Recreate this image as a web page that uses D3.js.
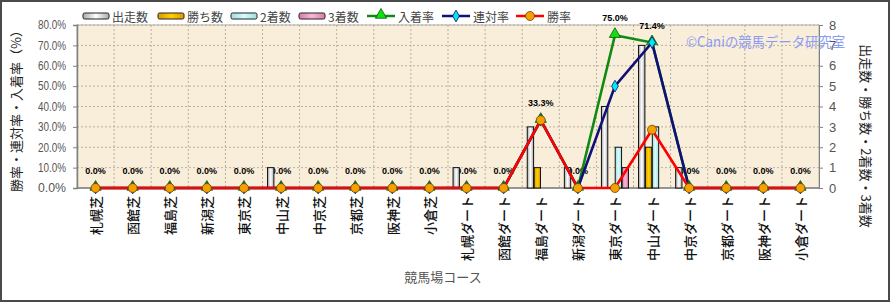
<!DOCTYPE html>
<html lang="ja">
<head>
<meta charset="UTF-8">
<title>競馬場コース別成績</title>
<script src="https://d3js.org/d3.v7.min.js"></script>
<style>
  body { margin: 0; background: #fff; }
  svg text { font-family: "Noto Sans CJK JP", "Liberation Sans", sans-serif; }
</style>
</head>
<body>
<div id="chart"></div>
<script>
// data
var courses = ["札幌芝", "函館芝", "福島芝", "新潟芝", "東京芝", "中山芝", "中京芝", "京都芝", "阪神芝", "小倉芝",
               "札幌ダート", "函館ダート", "福島ダート", "新潟ダート", "東京ダート", "中山ダート", "中京ダート", "京都ダート", "阪神ダート", "小倉ダート"];
var starts  = [0, 0, 0, 0, 0, 1, 0, 0, 0, 0, 1, 0, 3, 1, 4, 7, 1, 0, 0, 0];
var wins    = [0, 0, 0, 0, 0, 0, 0, 0, 0, 0, 0, 0, 1, 0, 0, 2, 0, 0, 0, 0];
var seconds = [0, 0, 0, 0, 0, 0, 0, 0, 0, 0, 0, 0, 0, 0, 2, 3, 0, 0, 0, 0];
var thirds  = [0, 0, 0, 0, 0, 0, 0, 0, 0, 0, 0, 0, 0, 0, 1, 0, 0, 0, 0, 0];
var winRate    = [0, 0, 0, 0, 0, 0, 0, 0, 0, 0, 0, 0, 33.3, 0, 0, 28.6, 0, 0, 0, 0];
var rentaiRate = [0, 0, 0, 0, 0, 0, 0, 0, 0, 0, 0, 0, 33.3, 0, 50.0, 71.4, 0, 0, 0, 0];
var placeRate  = [0, 0, 0, 0, 0, 0, 0, 0, 0, 0, 0, 0, 33.3, 0, 75.0, 71.4, 0, 0, 0, 0];
var rateTicks  = [0, 10, 20, 30, 40, 50, 60, 70, 80];
var countTicks = [0, 1, 2, 3, 4, 5, 6, 7, 8];

var w = 890, h = 302;
var plotL = 77, plotR = 819, plotT = 25, plotB = 188;

var svg = d3.select("#chart").append("svg")
    .attr("width", w)
    .attr("height", h);

var defs = svg.append("defs");
function barGrad(id, edge, mid) {
    var g = defs.append("linearGradient").attr("id", id)
        .attr("x1", "0%").attr("x2", "100%").attr("y1", "0%").attr("y2", "0%");
    g.append("stop").attr("offset", "0%").attr("stop-color", edge);
    g.append("stop").attr("offset", "50%").attr("stop-color", mid);
    g.append("stop").attr("offset", "100%").attr("stop-color", edge);
}
barGrad("gStarts", "#a8a8a8", "#ffffff");
barGrad("gWins", "#d99a00", "#ffd000");
barGrad("gSeconds", "#9fdede", "#d8fbfb");
barGrad("gThirds", "#d77aa8", "#f8b8d8");

// outer frame
svg.append("rect")
    .attr("x", 1).attr("y", 1)
    .attr("width", w - 2).attr("height", h - 2)
    .attr("fill", "#fff")
    .attr("stroke", "#4a4a4a")
    .attr("stroke-width", 2);

var x = d3.scaleBand()
    .domain(courses)
    .range([plotL, plotR]);

var sub = d3.scaleBand()
    .domain(["starts", "wins", "seconds", "thirds"])
    .range([-13.5, 13.5])
    .paddingInner(0.08);

var yRate = d3.scaleLinear()
    .domain([0, 80])
    .range([plotB, plotT]);

var yCount = d3.scaleLinear()
    .domain([0, 8])
    .range([plotB, plotT]);

function cx(d, i) { return x(courses[i]) + x.bandwidth() / 2; }

// plot area
svg.append("rect")
    .attr("x", plotL).attr("y", plotT)
    .attr("width", plotR - plotL).attr("height", plotB - plotT)
    .attr("fill", "#f9eed9")
    .attr("stroke", "#b0b0b0");

// grid
svg.append("g")
    .selectAll("line")
    .data(rateTicks.slice(1))
    .enter()
    .append("line")
    .attr("x1", plotL).attr("x2", plotR)
    .attr("y1", function(d) { return yRate(d); })
    .attr("y2", function(d) { return yRate(d); })
    .attr("stroke", "#b8b0a0")
    .attr("stroke-dasharray", "2,2");

svg.append("g")
    .selectAll("line")
    .data(courses.slice(1))
    .enter()
    .append("line")
    .attr("x1", function(d) { return x(d); })
    .attr("x2", function(d) { return x(d); })
    .attr("y1", plotT).attr("y2", plotB)
    .attr("stroke", "#b8b0a0")
    .attr("stroke-dasharray", "2,2");

// axes
var leftAxis = svg.append("g")
    .attr("transform", "translate(" + plotL + ",0)")
    .call(d3.axisLeft(yRate).tickValues(rateTicks).tickSize(4).tickPadding(7)
        .tickFormat(function(d) { return d.toFixed(1) + "%"; }));
leftAxis.select(".domain").attr("stroke", "#808080").attr("stroke-width", 1.5);
leftAxis.selectAll(".tick line").attr("stroke", "#808080");
leftAxis.selectAll("text")
    .attr("fill", "#555")
    .style("font-family", "Liberation Sans, Arial, sans-serif")
    .attr("font-size", "12px")
    .attr("textLength", 28)
    .attr("lengthAdjust", "spacingAndGlyphs");

var rightAxis = svg.append("g")
    .attr("transform", "translate(" + plotR + ",0)")
    .call(d3.axisRight(yCount).tickValues(countTicks).tickSize(4).tickPadding(6));
rightAxis.select(".domain").attr("stroke", "#808080");
rightAxis.selectAll(".tick line").attr("stroke", "#808080");
rightAxis.selectAll("text")
    .attr("fill", "#555")
    .style("font-family", "Liberation Sans, Arial, sans-serif")
    .attr("font-size", "13px");

svg.append("line")
    .attr("x1", plotL).attr("x2", plotR)
    .attr("y1", plotB).attr("y2", plotB)
    .attr("stroke", "#808080")
    .attr("stroke-width", 1.5);

// x labels, vertical
svg.append("g")
    .selectAll("text")
    .data(courses)
    .enter()
    .append("text")
    .text(function(d) { return d; })
    .attr("transform", function(d) {
        return "translate(" + (x(d) + x.bandwidth() / 2) + ",196) rotate(-90)";
    })
    .attr("text-anchor", "end")
    .attr("dominant-baseline", "central")
    .attr("font-size", "13px")
    .attr("font-weight", 500)
    .attr("fill", "#111");

// axis titles
svg.append("text")
    .text("勝率・連対率・入着率（%）")
    .attr("transform", "translate(15,108) rotate(-90)")
    .attr("text-anchor", "middle")
    .attr("dominant-baseline", "central")
    .attr("font-size", "13px")
    .attr("fill", "#222");

svg.append("text")
    .text("出走数・勝ち数・2着数・3着数")
    .attr("transform", "translate(866,136) rotate(90)")
    .attr("text-anchor", "middle")
    .attr("dominant-baseline", "central")
    .attr("font-size", "13px")
    .attr("fill", "#222");

svg.append("text")
    .text("競馬場コース")
    .attr("x", 443).attr("y", 282)
    .attr("text-anchor", "middle")
    .attr("font-size", "13px")
    .attr("fill", "#555");

// value labels for 入着率 (drawn under the bars)
svg.append("g")
    .selectAll("text")
    .data(placeRate)
    .enter()
    .append("text")
    .text(function(d) { return d.toFixed(1) + "%"; })
    .attr("x", cx)
    .attr("y", function(d) { return yRate(d) - 14; })
    .attr("text-anchor", "middle")
    .style("font-family", "Liberation Sans, Arial, sans-serif")
    .attr("font-size", "9px")
    .attr("font-weight", "bold")
    .attr("fill", "#000");

// bars
var barSeries = [
    { key: "starts", values: starts, fill: "url(#gStarts)" },
    { key: "wins", values: wins, fill: "url(#gWins)" },
    { key: "seconds", values: seconds, fill: "url(#gSeconds)" },
    { key: "thirds", values: thirds, fill: "url(#gThirds)" }
];
barSeries.forEach(function(s) {
    var rows = s.values.map(function(v, i) { return { v: v, i: i }; })
        .filter(function(r) { return r.v > 0; });
    svg.append("g")
        .selectAll("rect")
        .data(rows)
        .enter()
        .append("rect")
        .attr("x", function(r) { return cx(r.v, r.i) + sub(s.key); })
        .attr("y", function(r) { return yCount(r.v); })
        .attr("width", sub.bandwidth())
        .attr("height", function(r) { return yCount(0) - yCount(r.v); })
        .attr("fill", s.fill)
        .attr("stroke", "#111")
        .attr("stroke-width", 1);
});

// lines
var lineSeries = [
    { values: placeRate, color: "#108a10" },
    { values: rentaiRate, color: "#101078" },
    { values: winRate, color: "#ff0000" }
];
lineSeries.forEach(function(s) {
    svg.append("path")
        .datum(s.values)
        .attr("d", d3.line().x(cx).y(function(d) { return yRate(d); }))
        .attr("fill", "none")
        .attr("stroke", s.color)
        .attr("stroke-width", 2.6);
});

// markers
var tri = d3.symbol().type(d3.symbolTriangle).size(55);
var dia = d3.symbol().type(d3.symbolDiamond).size(40);
svg.append("g")
    .selectAll("path")
    .data(placeRate)
    .enter()
    .append("path")
    .attr("d", tri)
    .attr("transform", function(d, i) { return "translate(" + cx(d, i) + "," + (yRate(d) - 1) + ")"; })
    .attr("fill", "#10e010")
    .attr("stroke", "#0a5a0a")
    .attr("stroke-width", 0.8);

svg.append("g")
    .selectAll("path")
    .data(rentaiRate)
    .enter()
    .append("path")
    .attr("d", dia)
    .attr("transform", function(d, i) { return "translate(" + cx(d, i) + "," + yRate(d) + ")"; })
    .attr("fill", "#00e8f0")
    .attr("stroke", "#101078")
    .attr("stroke-width", 0.8);

svg.append("g")
    .selectAll("circle")
    .data(winRate)
    .enter()
    .append("circle")
    .attr("cx", cx)
    .attr("cy", function(d) { return yRate(d); })
    .attr("r", 4.5)
    .attr("fill", "#f5a000")
    .attr("stroke", "#6a4000")
    .attr("stroke-width", 0.8);

// legend
var legend = svg.append("g").attr("font-size", "12px");
var legendBars = [
    { name: "出走数", fill: "url(#gStarts)", x: 83 },
    { name: "勝ち数", fill: "url(#gWins)", x: 158 },
    { name: "2着数", fill: "url(#gSeconds)", x: 231 },
    { name: "3着数", fill: "url(#gThirds)", x: 299 }
];
legendBars.forEach(function(b) {
    legend.append("rect")
        .attr("x", b.x).attr("y", 13)
        .attr("width", 26).attr("height", 6)
        .attr("rx", 1.5)
        .attr("fill", b.fill)
        .attr("stroke", "#222");
    legend.append("text")
        .text(b.name)
        .attr("x", b.x + 29).attr("y", 16)
        .attr("dominant-baseline", "central")
        .attr("fill", "#444");
});
var legendLines = [
    { name: "入着率", color: "#108a10", x: 367, marker: "tri" },
    { name: "連対率", color: "#101078", x: 442, marker: "dia" },
    { name: "勝率", color: "#ff0000", x: 516, marker: "circle" }
];
legendLines.forEach(function(l) {
    legend.append("line")
        .attr("x1", l.x).attr("x2", l.x + 28)
        .attr("y1", 16).attr("y2", 16)
        .attr("stroke", l.color)
        .attr("stroke-width", 2.5);
    if (l.marker === "tri") {
        legend.append("path").attr("d", tri)
            .attr("transform", "translate(" + (l.x + 14) + ",15)")
            .attr("fill", "#10e010").attr("stroke", "#0a5a0a").attr("stroke-width", 0.8);
    } else if (l.marker === "dia") {
        legend.append("path").attr("d", dia)
            .attr("transform", "translate(" + (l.x + 14) + ",16)")
            .attr("fill", "#00e8f0").attr("stroke", "#101078").attr("stroke-width", 0.8);
    } else {
        legend.append("circle")
            .attr("cx", l.x + 14).attr("cy", 16).attr("r", 4.5)
            .attr("fill", "#f5a000").attr("stroke", "#6a4000").attr("stroke-width", 0.8);
    }
    legend.append("text")
        .text(l.name)
        .attr("x", l.x + 31).attr("y", 16)
        .attr("dominant-baseline", "central")
        .attr("fill", "#444");
});

// copyright
svg.append("text")
    .text("©Caniの競馬データ研究室")
    .attr("x", 686).attr("y", 47)
    .attr("font-size", "14px")
    .attr("textLength", 159)
    .attr("lengthAdjust", "spacingAndGlyphs")
    .attr("fill", "#8c9cf2");
</script>
</body>
</html>
